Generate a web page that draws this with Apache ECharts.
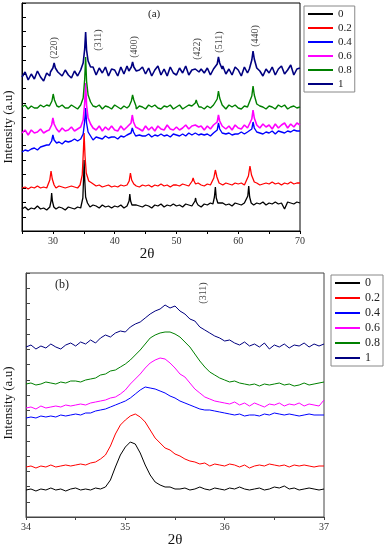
<!DOCTYPE html>
<html><head><meta charset="utf-8">
<script src="https://cdn.jsdelivr.net/npm/echarts@6/dist/echarts.min.js"></script>
<style>html,body{margin:0;padding:0;background:#fff}#c{width:386px;height:550px}</style>
</head><body><div id="c"></div>
<script>
// ---------- DATA ----------
const seriesNames = ['0', '0.2', '0.4', '0.6', '0.8', '1'];
const colors = ['#000000', '#ff0000', '#0000ff', '#ff00ff', '#008000', '#000080'];

// Panel (a): baseline intensity (a.u., offset stacked) at 2θ = 25, 25.5, ..., 70
const aBase0 = [22,24,21,23,22,25,22,23,21,24, 23,22,24,23,21,24,23,22,24,23, 25,27,24,26,25,23,26,24,25,23, 25,24,26,23,25,27,24,26,25,24, 26,25,23,26,25,27,24,26,25,27, 25,26,24,27,26,25,27,26,24,27, 26,28,25,27,26,28,26,27,25,28, 27,26,28,27,29,26,28,27,29,26, 28,27,29,27,28,22,29,28,27,29, 28];
const aBase02 = [43,44,42,44,43,45,43,44,43,44, 44,43,45,44,43,44,45,44,43,45, 48,50,47,46,45,46,44,45,46,44, 45,44,46,45,44,45,47,45,44,46, 45,46,44,46,45,47,45,46,44,46, 46,45,47,46,45,47,46,48,46,45, 47,46,48,46,47,46,48,47,46,48, 47,48,46,47,49,47,48,46,47,48, 47,49,47,48,46,48,47,49,47,48, 48];
const aBase04 = [79,81,80,82,83,81,84,85,86,84, 87,88,89,87,90,89,90,92,90,92, 93,94,93,91,94,93,92,95,93,94, 94,92,95,94,96,95,96,94,96,95, 95,97,94,96,95,97,95,96,94,97, 96,95,97,95,98,96,98,95,97,96, 97,95,98,97,99,96,97,98,96,97, 97,99,97,99,98,96,99,98,97,99, 98,100,97,100,99,98,100,99,101,100, 100];
const aBase06 = [98,101,96,101,98,99,102,98,100,103, 100,104,99,103,100,101,104,100,102,105, 106,108,105,103,101,105,100,104,101,105, 101,100,105,101,104,106,101,105,102,100, 105,101,104,100,105,102,101,106,102,101, 104,101,103,106,102,105,107,102,105,101, 105,102,106,101,104,107,102,105,101,106, 103,102,106,103,107,102,106,103,107,104, 106,102,107,103,106,108,103,107,104,108, 106];
const aBase08 = [124,126,122,125,123,123,126,124,126,123, 125,122,124,126,123,123,126,124,122,125, 127,129,126,125,124,126,122,125,124,122, 126,124,122,125,123,126,124,122,125,124, 122,126,124,126,123,122,125,124,126,122, 124,126,122,124,126,125,122,125,124,122, 125,123,126,122,125,124,122,126,124,126, 123,122,125,124,126,123,122,125,124,122, 125,124,122,126,124,126,122,124,125,123, 124];
const aBase1 = [154,159,151,157,152,160,154,150,158,155, 159,153,160,155,161,156,153,160,155,159, 162,166,159,164,156,163,158,164,155,162, 161,155,164,157,165,158,162,154,161,164, 157,163,155,161,165,156,162,155,164,158, 156,163,158,165,156,161,164,155,162,158, 163,156,162,155,161,165,157,162,156,164, 161,155,164,158,162,156,165,160,155,162, 158,164,156,162,165,157,161,166,156,162, 163];

// Panel (a): diffraction peaks [2θ, intensity] per sample
const aPeaks0 = [
  [[29.5,24],[29.7,30],[29.8,38],[29.92,30],[30.15,24]],
  [[34.6,26],[34.85,33],[35.0,58],[35.05,71],[35.15,52],[35.3,34],[35.6,28]],
  [[42.1,26],[42.33,30],[42.45,37],[42.58,30],[42.8,26]],
  [[52.8,27],[53.0,30],[53.1,33],[53.22,29],[53.4,27]],
  [[55.9,27],[56.15,34],[56.3,44],[56.45,33],[56.7,28]],
  [[61.3,28],[61.55,35],[61.7,45],[61.85,34],[62.1,28]]];
const aPeaks02 = [
  [[29.2,45],[29.5,51],[29.7,60],[29.9,52],[30.2,46]],
  [[34.4,46],[34.75,56],[34.95,82],[35.05,98],[35.2,75],[35.4,58],[35.8,50],[36.3,48]],
  [[42.0,46],[42.35,50],[42.55,58],[42.75,51],[43.1,47]],
  [[52.3,46],[52.55,50],[52.7,53],[52.85,50],[53.1,47]],
  [[55.7,47],[56.05,53],[56.3,61],[56.55,54],[56.9,48]],
  [[61.3,48],[61.65,55],[61.9,65],[62.15,56],[62.6,49]]];
const aPeaks04 = [
  [[29.4,86],[29.8,90],[30.0,96],[30.2,91],[30.6,88]],
  [[34.5,92],[34.9,97],[35.15,110],[35.3,123],[35.45,108],[35.7,99],[36.1,95]],
  [[42.3,94],[42.65,98],[42.85,103],[43.05,99],[43.4,95]],
  [[52.8,96],[53.05,98],[53.2,100],[53.35,98],[53.6,96]],
  [[56.2,97],[56.6,101],[56.8,108],[57.0,102],[57.4,98]],
  [[61.8,98],[62.2,102],[62.4,109],[62.6,103],[63.0,99]]];
const aPeaks06 = [
  [[29.4,101],[29.8,106],[30.0,113],[30.2,107],[30.6,102]],
  [[34.5,104],[34.9,111],[35.15,128],[35.3,148],[35.45,126],[35.7,113],[36.1,107]],
  [[42.3,103],[42.65,108],[42.85,116],[43.05,109],[43.4,104]],
  [[52.8,104],[53.05,106],[53.2,108],[53.35,106],[53.6,104]],
  [[56.2,104],[56.6,109],[56.8,116],[57.0,110],[57.4,105]],
  [[61.8,105],[62.2,112],[62.4,121],[62.6,113],[63.0,106]]];
const aPeaks08 = [
  [[29.45,125],[29.85,130],[30.05,137],[30.25,131],[30.65,125]],
  [[34.5,126],[34.9,133],[35.15,152],[35.3,174],[35.45,150],[35.7,136],[36.1,129]],
  [[42.35,125],[42.7,130],[42.9,136],[43.1,131],[43.45,125]],
  [[52.75,124],[53.05,128],[53.2,131],[53.35,128],[53.65,124]],
  [[56.2,125],[56.6,132],[56.8,140],[57.0,133],[57.4,126]],
  [[61.8,126],[62.2,135],[62.4,145],[62.6,136],[63.0,127]]];
const aPeaks1 = [
  [[29.6,159],[30.0,163],[30.2,168],[30.4,163],[30.8,159]],
  [[34.5,161],[34.9,168],[35.15,182],[35.3,199],[35.45,181],[35.7,170],[36.1,164]],
  [[42.3,160],[42.7,164],[42.9,169],[43.1,164],[43.5,160]],
  [[52.75,159],[53.05,162],[53.2,164],[53.35,162],[53.65,159]],
  [[56.2,161],[56.6,167],[56.8,174],[57.0,168],[57.4,162]],
  [[61.8,162],[62.2,171],[62.4,180],[62.6,172],[63.0,163]]];

// Panel (a) hkl labels
const aHkl = ['(220)', '(311)', '(400)', '(422)', '(511)', '(440)'];
const aHklX = [30.2, 37.4, 43.2, 53.4, 56.9, 62.7];
const aHklY = [183, 191, 184, 182, 189, 195];

// Panel (b): intensity at 2θ = 34.00, 34.05, ..., 37.00
const b0 = [27,28,26,28,27,29,27,28,26,28,29,27,28,27,29,28, 30,37,50,62,70,75,73,64,52,42,35,32,30,30,28, 28,29,27,28,30,28,27,29,28,27,29,28,30,28,27,28,29,27,28,30,29,31,28,29,27,28,29,28,27,28];
const b02 = [50,51,49,51,50,52,50,51,52,51, 52,53,52,54,55,58,62,71,83,92, 97,101,103,100,95,87,79,74,69,67, 63,61,58,56,55,53,54,51,53,52, 51,53,52,50,52,49,51,52,51,53, 52,51,52,50,52,51,52,51,50,51, 51];
const b04 = [99,100,99,101,100,101,100,102,101,102, 103,102,104,104,106,107,108,110,112,114, 116,119,123,127,130,129,128,126,124,121, 119,116,114,112,110,108,107,107,106,105, 104,103,102,103,101,102,102,101,103,102, 104,103,102,103,102,101,102,103,102,102, 102];
const b06 = [109,110,108,111,109,110,111,110,112,111, 112,113,112,114,115,116,117,119,120,123, 127,133,138,143,149,154,157,159,158,154, 149,143,140,134,128,124,120,118,116,115, 114,113,115,112,114,111,114,112,110,113, 112,114,111,113,112,114,111,113,112,111, 117];
const b08 = [133,134,132,133,135,134,133,135,134,136, 136,135,137,138,139,142,143,146,147,150, 153,157,162,167,173,179,182,184,185,185, 183,180,175,170,163,156,150,145,142,139, 137,135,136,134,133,132,133,131,133,132, 133,134,132,133,131,132,134,132,133,134, 135];
const b1 = [170,172,168,171,169,173,170,168,172,174, 171,175,173,177,174,179,182,180,184,186, 185,190,193,195,199,203,206,208,212,209, 211,206,203,198,196,190,187,184,181,179, 176,177,174,172,175,171,173,170,174,168, 172,170,173,169,172,171,174,170,173,171, 173];

const bHkl = ['(311)'];
const bHklX = [35.79];
const bHklY = [224];

// ---------- BUILD ----------
const xA = []; for (let i = 0; i <= 90; i++) xA.push(25 + 0.5 * i);
const xB = []; for (let i = 0; i <= 60; i++) xB.push(+(34 + 0.05 * i).toFixed(2));

function buildA(base, peaks) {
  const pts = [];
  xA.forEach((x, i) => {
    if (!peaks.some(g => x >= g[0][0] && x <= g[g.length - 1][0])) pts.push([x, base[i]]);
  });
  peaks.forEach(g => g.forEach(p => pts.push(p)));
  pts.sort((a, b) => a[0] - b[0]);
  return pts;
}
const aData = [buildA(aBase0, aPeaks0), buildA(aBase02, aPeaks02), buildA(aBase04, aPeaks04),
               buildA(aBase06, aPeaks06), buildA(aBase08, aPeaks08), buildA(aBase1, aPeaks1)];
const bVals = [b0, b02, b04, b06, b08, b1];
const bData = bVals.map(arr => xB.map((x, i) => [x, arr[i]]));

const serif = 'Liberation Serif';
const aWidths = [1.3, 1.3, 1.4, 1.6, 1.4, 1.6];
const series = [];
seriesNames.forEach((n, k) => {
  series.push({ name: n, type: 'line', xAxisIndex: 0, yAxisIndex: 0, data: aData[k], symbol: 'none',
    lineStyle: { color: colors[k], width: aWidths[k] }, itemStyle: { color: colors[k] } });
});
seriesNames.forEach((n, k) => {
  series.push({ name: n, type: 'line', xAxisIndex: 1, yAxisIndex: 1, data: bData[k], symbol: 'none',
    lineStyle: { color: colors[k], width: 1 }, itemStyle: { color: colors[k] } });
});
const hklLabel = { show: true, rotate: 90, position: 'inside', formatter: '{b}', fontFamily: serif, fontSize: 10, color: '#111' };
series.push({ type: 'scatter', xAxisIndex: 0, yAxisIndex: 0, symbolSize: 1, itemStyle: { color: 'rgba(0,0,0,0)' }, label: hklLabel, z: 5,
  data: aHkl.map((t, i) => ({ name: t, value: [aHklX[i], aHklY[i]] })) });
series.push({ type: 'scatter', xAxisIndex: 1, yAxisIndex: 1, symbolSize: 1, itemStyle: { color: 'rgba(0,0,0,0)' }, label: hklLabel, z: 5,
  data: bHkl.map((t, i) => ({ name: t, value: [bHklX[i], bHklY[i]] })) });

function xAxisCfg(idx, min, max, interval, step, gap, pad, col) {
  return { type: 'value', gridIndex: idx, min, max, interval,
    axisLine: { lineStyle: { color: col, width: 1 } },
    axisTick: { show: true, inside: false, length: 3, lineStyle: { color: col } },
    splitLine: { show: false },
    axisLabel: { fontFamily: serif, fontSize: 10, color: '#333', margin: 5,
      formatter: v => (Math.abs(v / step - Math.round(v / step)) < 1e-6 && v > min) || (v === min && idx === 1) ? String(Math.round(v)) : '' },
    name: '2θ', nameLocation: 'middle', nameGap: gap,
    nameTextStyle: { fontFamily: serif, fontSize: 15, color: '#111', padding: pad } };
}
function yAxisCfg(idx, max, interval, gap, pad, col) {
  return { type: 'value', gridIndex: idx, min: 0, max, interval,
    axisLine: { show: true, lineStyle: { color: col, width: 1 } },
    axisTick: { show: true, inside: true, length: 4, lineStyle: { color: col } },
    axisLabel: { show: false }, splitLine: { show: false },
    name: 'Intensity (a.u)', nameLocation: 'middle', nameGap: gap, nameRotate: 90,
    nameTextStyle: { fontFamily: serif, fontSize: 13, color: '#111', padding: pad } };
}
const legendBase = { orient: 'vertical', data: seriesNames, icon: 'rect', itemHeight: 2,
  borderColor: '#888', borderWidth: 1, backgroundColor: '#fff', selectedMode: false };

const option = {
  animation: false,
  backgroundColor: '#fff',
  title: [
    { text: '(a)', left: 148, top: 9, padding: 0, textStyle: { fontFamily: serif, fontSize: 11, fontWeight: 'normal', color: '#222' } },
    { text: '(b)', left: 55, top: 279, padding: 0, textStyle: { fontFamily: serif, fontSize: 12, fontWeight: 'normal', color: '#222' } }
  ],
  grid: [
    { left: 22, top: 3, width: 278, height: 228, show: true, borderColor: '#000', borderWidth: 1, backgroundColor: 'transparent', containLabel: false, outerBoundsMode: 'none' },
    { left: 26, top: 273, width: 298, height: 244, show: true, borderColor: '#444', borderWidth: 1, backgroundColor: 'transparent', containLabel: false, outerBoundsMode: 'none' }
  ],
  xAxis: [ xAxisCfg(0, 25, 70, 5, 10, 10, [0, 28, 0, 0], '#000'), xAxisCfg(1, 34, 37, 0.5, 1, 13, [0, 0, 0, 0], '#444') ],
  yAxis: [ yAxisCfg(0, 228, 14.25, 7, [0, 20, 0, 0], '#000'), yAxisCfg(1, 244, 15.25, 11, [0, 16, 0, 0], '#444') ],
  legend: [
    Object.assign({}, legendBase, { left: 304, top: 6, padding: [2, 3, 2, 4], itemWidth: 25, itemGap: 2,
      textStyle: { fontFamily: serif, fontSize: 11, lineHeight: 12, color: '#222' } }),
    Object.assign({}, legendBase, { left: 331, top: 275, padding: [2, 3, 2, 4], itemWidth: 25, itemGap: 3,
      textStyle: { fontFamily: serif, fontSize: 12, lineHeight: 12, color: '#222' } })
  ],
  series
};
const chart = echarts.init(document.getElementById('c'), null, { renderer: 'canvas' });
chart.setOption(option);
</script></body></html>
